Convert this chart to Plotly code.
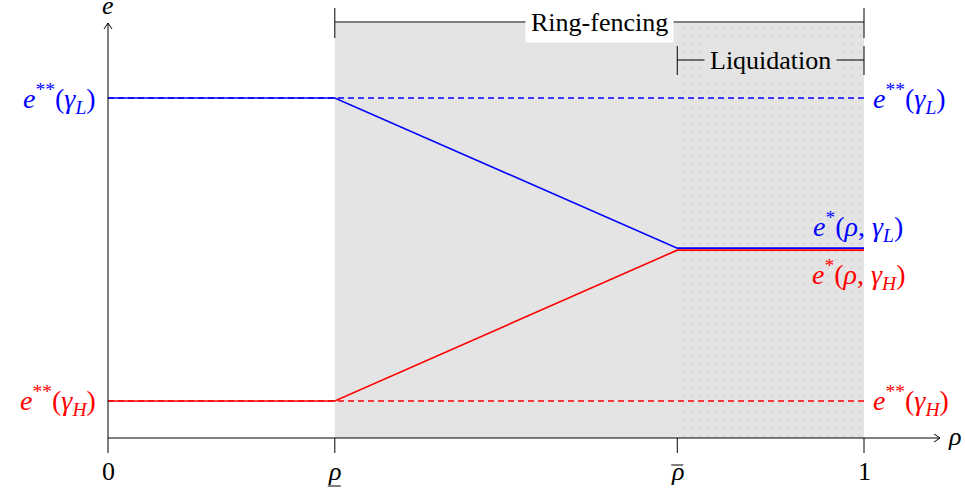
import plotly.graph_objects as go

# --- data (ρ on x, effort e on y) ---
rho_knots = [0.0, 0.30, 0.753, 1.0]        # 0, ρ_low, ρ_bar, 1
e_low_type = [1.0, 1.0, 0.5585, 0.5585]    # solid blue, γ_L
e_high_type = [0.109, 0.109, 0.5525, 0.5525]  # solid red, γ_H
e_ss_L = 1.0     # e**(γ_L)
e_ss_H = 0.109   # e**(γ_H)
tick_pos = [0.0, 0.30, 0.753, 1.0]
tick_text = ["0", "<i>ρ</i>", "<i>ρ</i>", "1"]

BLUE = "#0000ff"
RED = "#ff0000"
FONT = "Liberation Serif, DejaVu Serif, serif"
FS = 26      # plain text
FM = 28      # math labels

# pixel <-> data mapping (plot area fills the page)
W, H = 965, 491
X0, XS = 108, 756     # pixel of x=0, pixels per unit
Y0, YS = 438, 340     # pixel of y=0, pixels per unit


def dx(px):
    return (px - X0) / XS


def dy(py):
    return (Y0 - py) / YS


rho_lo, rho_hi = rho_knots[1], rho_knots[2]
y_top = dy(23)
x_end = dx(940)

fig = go.Figure()

# shaded ring-fencing region
fig.add_shape(type="rect", x0=rho_lo, x1=1, y0=0, y1=y_top,
              fillcolor="#e4e4e4", line_width=0, layer="below")

# dotted liquidation region
fig.add_trace(go.Scatter(
    x=[rho_hi, 1, 1, rho_hi, rho_hi], y=[0, 0, y_top, y_top, 0],
    mode="lines", line=dict(width=0), fill="toself", fillcolor="rgba(0,0,0,0)",
    fillpattern=dict(shape=".", size=8, solidity=0.12, fgcolor="#d0d0d0",
                     bgcolor="rgba(0,0,0,0)"),
    hoverinfo="skip", showlegend=False))

# dashed benchmark levels
for lvl, col in [(e_ss_L, BLUE), (e_ss_H, RED)]:
    fig.add_trace(go.Scatter(x=[0, 1], y=[lvl, lvl], mode="lines",
                             line=dict(color=col, width=1.6, dash="6px,4px"),
                             showlegend=False, hoverinfo="skip"))

# solid equilibrium paths
fig.add_trace(go.Scatter(x=rho_knots, y=e_high_type, mode="lines",
                         line=dict(color=RED, width=1.6), showlegend=False))
fig.add_trace(go.Scatter(x=rho_knots, y=e_low_type, mode="lines",
                         line=dict(color=BLUE, width=1.6), showlegend=False))

# axes with open arrow heads
ax_line = dict(color="black", width=1)
fig.add_shape(type="line", x0=0, x1=x_end, y0=0, y1=0, line=ax_line)
fig.add_shape(type="line", x0=0, x1=0, y0=0, y1=dy(23), line=ax_line)
ax_w, ax_h = 6 / XS, 4 / YS
fig.add_shape(type="path", line=ax_line,
              path=f"M {x_end-ax_w} {ax_h} L {x_end} 0 L {x_end-ax_w} {-ax_h}")
ay_w, ay_h = 4 / XS, 6 / YS
fig.add_shape(type="path", line=ax_line,
              path=f"M {-ay_w} {dy(23)-ay_h} L 0 {dy(23)} L {ay_w} {dy(23)-ay_h}")

# ticks and tick labels
for xv, txt in zip(tick_pos, tick_text):
    fig.add_shape(type="line", x0=xv, x1=xv, y0=0, y1=dy(453), line=ax_line)
    fig.add_annotation(x=xv, y=dy(471), text=txt, showarrow=False,
                       font=dict(family=FONT, size=FS, color="black"))
# underline / bar accents for ρ ticks
fig.add_shape(type="line", x0=rho_lo - 7 / XS, x1=rho_lo + 6 / XS,
              y0=dy(486), y1=dy(486), line=ax_line)
fig.add_shape(type="line", x0=rho_hi - 6 / XS, x1=rho_hi + 6 / XS,
              y0=dy(465), y1=dy(465), line=ax_line)

fig.add_annotation(x=0, y=dy(21), yanchor="bottom", text="<i>e</i>", showarrow=False,
                   borderpad=0, font=dict(family=FONT, size=FS, color="black"))
fig.add_annotation(x=dx(946), y=dy(436), text="<i>ρ</i>", showarrow=False,
                   xanchor="left", font=dict(family=FONT, size=FS, color="black"))

# level labels
lab_L = "<i>e</i><sup>**</sup>(<i>γ</i><sub><i>L</i></sub>)"
lab_H = "<i>e</i><sup>**</sup>(<i>γ</i><sub><i>H</i></sub>)"
for lvl, txt, col in [(e_ss_L, lab_L, BLUE), (e_ss_H, lab_H, RED)]:
    fig.add_annotation(x=dx(98), y=lvl, text=txt, xanchor="right", showarrow=False,
                       font=dict(family=FONT, size=FM, color=col))
    fig.add_annotation(x=dx(871), y=lvl, text=txt, xanchor="left", showarrow=False,
                       font=dict(family=FONT, size=FM, color=col))

fig.add_annotation(x=dx(811), y=dy(226), xanchor="left", showarrow=False,
                   text="<i>e</i><sup>*</sup>(<i>ρ</i>, <i>γ</i><sub><i>L</i></sub>)",
                   font=dict(family=FONT, size=FM, color=BLUE))
fig.add_annotation(x=dx(810), y=dy(274), xanchor="left", showarrow=False,
                   text="<i>e</i><sup>*</sup>(<i>ρ</i>, <i>γ</i><sub><i>H</i></sub>)",
                   font=dict(family=FONT, size=FM, color=RED))

# brackets: ring-fencing and liquidation
ring_y, liq_y = dy(22), dy(60)
fig.add_shape(type="line", x0=rho_lo, x1=1, y0=ring_y, y1=ring_y, line=ax_line)
for xv in (rho_lo, 1):
    fig.add_shape(type="line", x0=xv, x1=xv, y0=dy(8), y1=dy(38), line=ax_line)
fig.add_annotation(x=(rho_lo + 1) / 2, y=ring_y, text="Ring-fencing", showarrow=False,
                   bgcolor="white", borderpad=5,
                   font=dict(family=FONT, size=FS, color="black"))
fig.add_shape(type="line", x0=rho_hi, x1=1, y0=liq_y, y1=liq_y, line=ax_line)
for xv in (rho_hi, 1):
    fig.add_shape(type="line", x0=xv, x1=xv, y0=dy(46), y1=dy(75), line=ax_line)
fig.add_annotation(x=(rho_hi + 1) / 2, y=liq_y, text="Liquidation", showarrow=False,
                   bgcolor="#e4e4e4", borderpad=5,
                   font=dict(family=FONT, size=FS, color="black"))

fig.update_layout(
    width=W, height=H, margin=dict(l=0, r=0, t=0, b=0),
    plot_bgcolor="white", paper_bgcolor="white",
    xaxis=dict(range=[dx(0), dx(W)], visible=False, fixedrange=True),
    yaxis=dict(range=[dy(H), dy(0)], visible=False, fixedrange=True),
)

fig.write_html("out.html", config={"displayModeBar": False},
               post_script="document.body.style.margin='0';")
